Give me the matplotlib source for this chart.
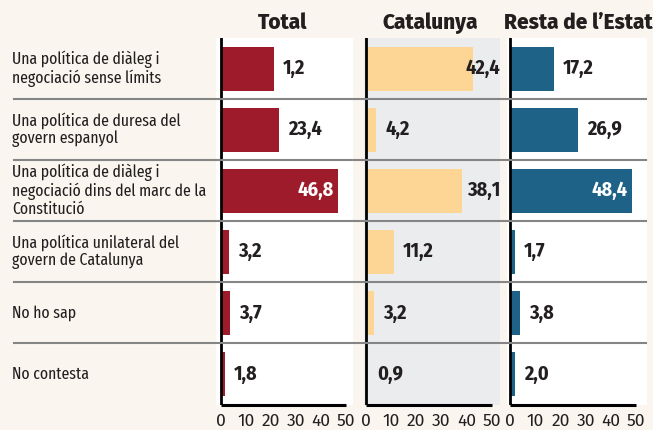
import matplotlib
matplotlib.use("Agg")
import matplotlib.pyplot as plt
from matplotlib.lines import Line2D

# ---------------------------------------------------------------------------
# Data
# ---------------------------------------------------------------------------
CATEGORIES = [
    "Una política de diàleg i\nnegociació sense límits",
    "Una política de duresa del\ngovern espanyol",
    "Una política de diàleg i\nnegociació dins del marc de la\nConstitució",
    "Una política unilateral del\ngovern de Catalunya",
    "No ho sap",
    "No contesta",
]
PANELS = ["Total", "Catalunya", "Resta de l\u2019Estat"]

TOTAL = [21.2, 23.4, 46.8, 3.2, 3.7, 1.8]
CATALUNYA = [42.4, 4.2, 38.1, 11.2, 3.2, 0.9]
RESTA = [17.2, 26.9, 48.4, 1.7, 3.8, 2.0]

# printed labels (the original prints "1,2" for the first Total bar)
TOTAL_LABELS = ["1,2", "23,4", "46,8", "3,2", "3,7", "1,8"]
CATALUNYA_LABELS = ["42,4", "4,2", "38,1", "11,2", "3,2", "0,9"]
RESTA_LABELS = ["17,2", "26,9", "48,4", "1,7", "3,8", "2,0"]

TICKS = [0, 10, 20, 30, 40, 50]

# ---------------------------------------------------------------------------
# Style
# ---------------------------------------------------------------------------
W, H = 653, 430
CREAM = "#faf6ef"
TEXT = "#231f20"
SEP = "#858585"
COLORS = ["#9e1b2b", "#fdd595", "#1e6387"]
FACES = ["white", "#ebecee", "white"]
FONT = ["Fira Sans Condensed", "DejaVu Sans"]
LABEL_FONT = ["Fira Sans Extra Condensed", "DejaVu Sans"]
HEAD_FONT = ["Fira Sans", "DejaVu Sans"]
TICK_FONT = ["Fira Sans", "DejaVu Sans"]

# (left px, right px, zero px, fifty px)
GEOM = [
    (216, 353, 220.7, 345.7),
    (364, 500, 365.7, 491.7),
    (507, 647, 510.3, 636.0),
]
HEAD_X = [283, 430, 578]
TOP_PX, BOT_PX = 38, 404.5

plt.rcParams.update({
    "font.family": FONT,
    "text.color": TEXT,
})

fig = plt.figure(figsize=(W / 100, H / 100), dpi=100, facecolor=CREAM)

values = [TOTAL, CATALUNYA, RESTA]
labels = [TOTAL_LABELS, CATALUNYA_LABELS, RESTA_LABELS]
n = len(CATEGORIES)

for k, (left, right, z, f) in enumerate(GEOM):
    ax = fig.add_axes([left / W, 1 - BOT_PX / H, (right - left) / W, (BOT_PX - TOP_PX) / H])
    ax.set_facecolor(FACES[k])
    xl = (left - z) / (f - z) * 50
    xr = (right - z) / (f - z) * 50
    ax.set_xlim(xl, xr)
    ax.set_ylim(n, 0)
    ys = [i + 0.5 for i in range(n)]
    ax.barh(ys, values[k], height=0.72, color=COLORS[k], zorder=2)
    for spine in ax.spines.values():
        spine.set_visible(False)
    ax.axvline(0, color="black", lw=2, zorder=3)
    ax.plot([0, 50], [n, n], color="black", lw=2.2, zorder=3, clip_on=False,
            solid_capstyle="butt")
    ax.set_yticks([])
    ax.set_xticks(TICKS)
    ax.set_xticklabels([str(t) for t in TICKS], fontsize=12.5, family=TICK_FONT)
    ax.tick_params(axis="x", length=0, pad=6, colors=TEXT)

    for y, v, lab in zip(ys, values[k], labels[k]):
        if v > 45:
            ax.annotate(lab, (v, y), xytext=(-3, 0), textcoords="offset points",
                        ha="right", va="center", fontsize=14.5, fontweight="bold",
                        color="white", zorder=4)
        elif v > 35:
            ax.annotate(lab, (xr, y), xytext=(0, 0), textcoords="offset points",
                        ha="right", va="center", fontsize=14.5, fontweight="bold",
                        color=TEXT, zorder=4)
        else:
            ax.annotate(lab, (v, y), xytext=(6.5, 0), textcoords="offset points",
                        ha="left", va="center", fontsize=14.5, fontweight="bold",
                        color=TEXT, zorder=4)

    fig.text(HEAD_X[k] / W, 1 - 23 / H, PANELS[k], ha="center", va="center",
             fontsize=15, fontweight=800, color=TEXT, family=HEAD_FONT)

# row labels and separators
row_h = (BOT_PX - TOP_PX) / n
for i, cat in enumerate(CATEGORIES):
    yc = TOP_PX + row_h * (i + 0.5)
    fig.text(12 / W, 1 - yc / H, cat, ha="left", va="center", fontsize=12.3,
             linespacing=1.1, color=TEXT, family=LABEL_FONT)
    if i > 0:
        yl = 1 - (TOP_PX + row_h * i) / H
        fig.add_artist(Line2D([14 / W, 646 / W], [yl, yl], color=SEP, lw=1.5, zorder=5))

fig.savefig("out.png", dpi=100, facecolor=CREAM)
